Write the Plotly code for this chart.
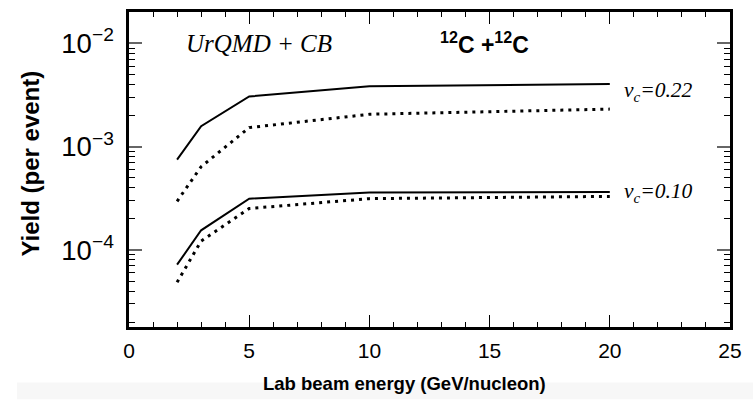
import plotly.graph_objects as go

energy = [2, 3, 5, 10, 20]
yield_vc022_solid = [7.5e-4, 1.58e-3, 3.06e-3, 3.84e-3, 4.04e-3]
yield_vc022_dotted = [2.96e-4, 6.4e-4, 1.53e-3, 2.06e-3, 2.31e-3]
yield_vc010_solid = [7.2e-5, 1.55e-4, 3.14e-4, 3.61e-4, 3.64e-4]
yield_vc010_dotted = [4.86e-5, 1.22e-4, 2.52e-4, 3.14e-4, 3.30e-4]

x_tick_step = 5
y_tick_step_decades = 1

SANS = "Liberation Sans, Arial, sans-serif"
SERIF = "Liberation Serif, Times New Roman, serif"

fig = go.Figure()
for ys in (yield_vc022_solid, yield_vc010_solid):
    fig.add_trace(go.Scatter(x=energy, y=ys, mode="lines",
                             line=dict(color="black", width=2), showlegend=False))
for ys in (yield_vc022_dotted, yield_vc010_dotted):
    fig.add_trace(go.Scatter(x=energy, y=ys, mode="lines",
                             line=dict(color="black", width=3, dash="3px,5px"), showlegend=False))

fig.update_layout(
    width=753, height=400,
    margin=dict(l=129, r=23, t=9, b=73),
    plot_bgcolor="white", paper_bgcolor="white",
    font=dict(family=SANS, color="black"),
    xaxis=dict(
        range=[0, 25], tickmode="linear", tick0=0, dtick=x_tick_step,
        ticks="inside", ticklen=12, tickwidth=1.3,
        tickcolor="black", showline=True, linewidth=2.5, linecolor="black",
        mirror="ticks", showgrid=False, zeroline=False,
        tickfont=dict(size=21, family=SANS), ticklabelstandoff=3,
        minor=dict(tickmode="linear", dtick=1, ticks="inside", ticklen=5, tickwidth=1.3,
                   tickcolor="black", showgrid=False),
    ),
    yaxis=dict(
        type="log", range=[-4.746, -1.696], tickmode="linear", tick0=0, dtick=y_tick_step_decades,
        exponentformat="power", showexponent="all",
        ticks="inside", ticklen=13, tickwidth=1.6, tickcolor="#666",
        showline=True, linewidth=2.5, linecolor="black", mirror="ticks",
        showgrid=False, zeroline=False,
        tickfont=dict(size=22, family=SANS), ticklabelstandoff=8,
        minor=dict(dtick="D1", ticks="inside", ticklen=6, tickwidth=1.3, tickcolor="black", showgrid=False),
    ),
)

# light gray strip behind the x title
fig.add_shape(type="rect", xref="paper", yref="paper",
              x0=(17 - 129) / 601, x1=(753 - 129) / 601,
              y0=(327 - 400) / 318, y1=(327 - 383) / 318,
              fillcolor="#f7f7f7", line=dict(width=0), layer="below")

annots = [
    dict(text="<b>Lab beam energy (GeV/nucleon)</b>", xref="paper", yref="paper",
         x=(404 - 129) / 601, y=(327 - 384) / 318, xanchor="center", yanchor="middle",
         font=dict(size=18.5, family=SANS)),
    dict(text="<b>Yield (per event)</b>", xref="paper", yref="paper", textangle=-90,
         x=(31 - 129) / 601, y=(327 - 162) / 318, xanchor="center", yanchor="middle",
         font=dict(size=24, family=SANS)),
    dict(text="<i>UrQMD + CB</i>", xref="x", yref="y", x=5.41, y=-2.0,
         xanchor="center", yanchor="middle", font=dict(size=25, family=SERIF)),
    dict(text="<b><sup>12</sup>C +<sup>12</sup>C</b>", xref="x", yref="y", x=14.77, y=-2.0,
         xanchor="center", yanchor="middle", font=dict(size=23, family=SERIF if False else SANS)),
    dict(text="<i>v<sub>c</sub>=0.22</i>", xref="x", yref="y", x=20.5, y=-2.47,
         xanchor="left", yanchor="middle", font=dict(size=21.5, family=SERIF)),
    dict(text="<i>v<sub>c</sub>=0.10</i>", xref="x", yref="y", x=20.5, y=-3.44,
         xanchor="left", yanchor="middle", font=dict(size=21.5, family=SERIF)),
]
for a in annots:
    fig.add_annotation(showarrow=False, **a)

fig.write_html("out.html")
